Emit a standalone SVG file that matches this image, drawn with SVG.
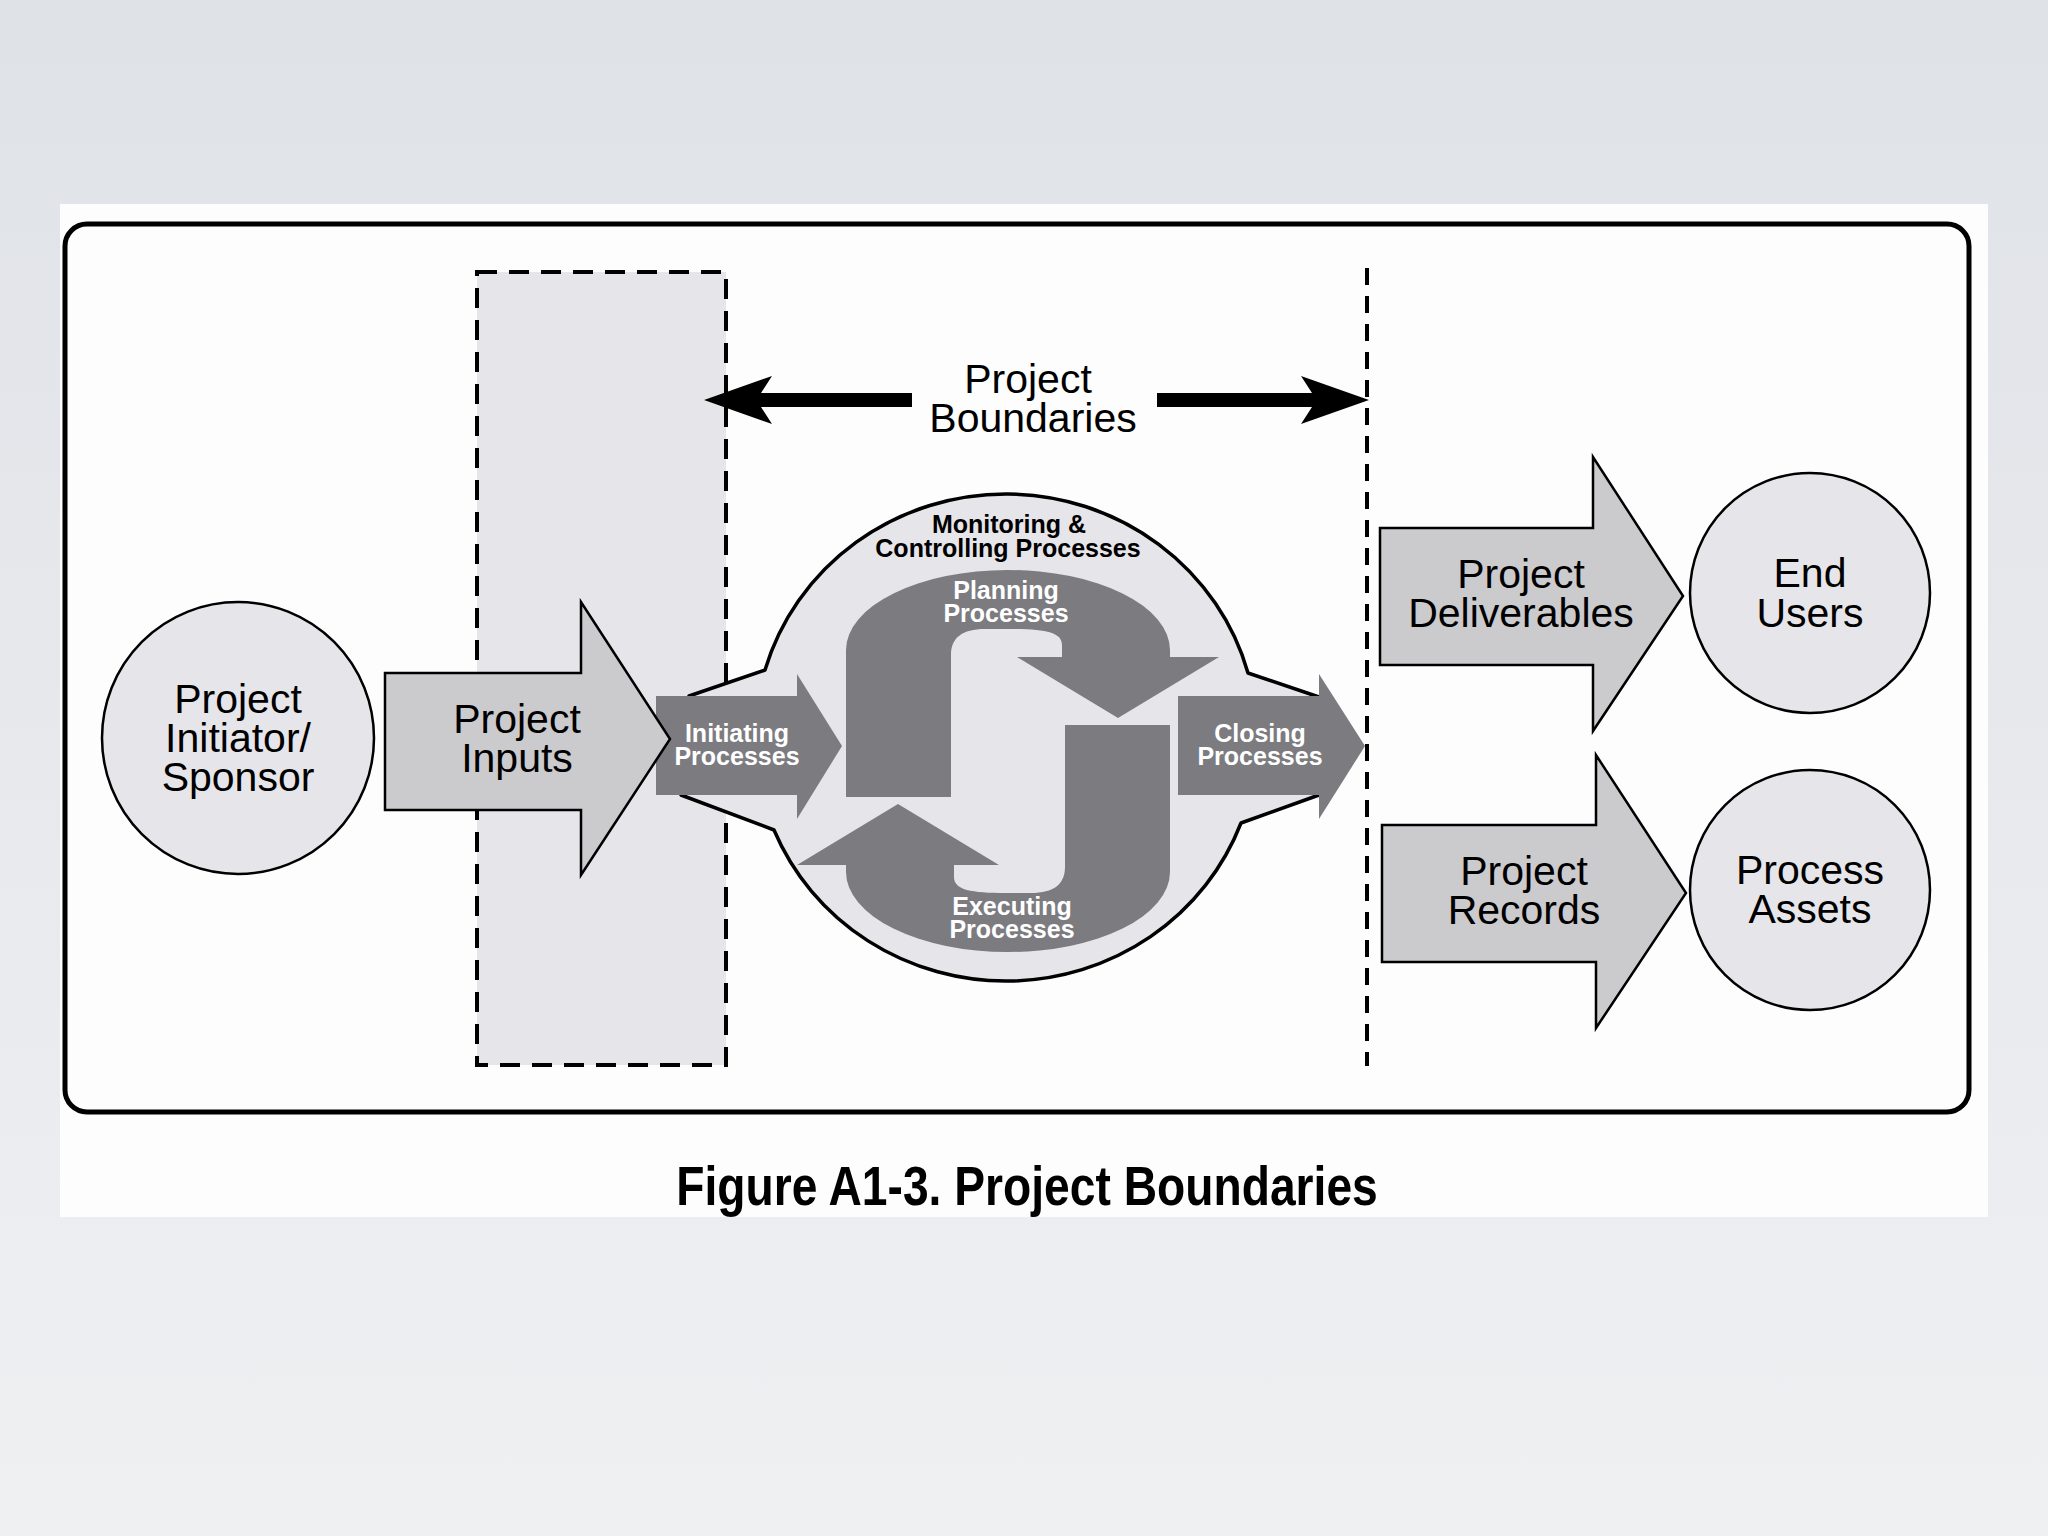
<svg xmlns="http://www.w3.org/2000/svg" width="2048" height="1536" viewBox="0 0 2048 1536">
<defs>
<linearGradient id="bg" x1="0" y1="0" x2="0" y2="1">
<stop offset="0" stop-color="#dfe2e7"/>
<stop offset="1" stop-color="#eff0f2"/>
</linearGradient>
<style>
.lbl{font-family:"Liberation Sans",Arial,sans-serif;font-size:41px;fill:#000;text-anchor:middle}
.wb{font-family:"Liberation Sans",Arial,sans-serif;font-size:25px;font-weight:bold;fill:#fff;text-anchor:middle}
.bb{font-family:"Liberation Sans",Arial,sans-serif;font-size:25px;font-weight:bold;fill:#000;text-anchor:middle}
.circ{fill:#e6e5e9;stroke:#000;stroke-width:2.5}
.big{fill:#cbcacd;stroke:#000;stroke-width:2.5;stroke-linejoin:miter}
.dark{fill:#7c7b7f}
.bnd{fill:#000}
</style>
</defs>
<rect x="0" y="0" width="2048" height="1536" fill="url(#bg)"/>
<rect x="60" y="204" width="1928" height="1013" fill="#fdfdfd"/>
<rect id="frame" x="65" y="224" width="1904" height="888" rx="22" fill="none" stroke="#000" stroke-width="5"/>

<g id="inputs-zone">
<rect x="477" y="272" width="249" height="793" fill="#e6e5e9" stroke="#000" stroke-width="4" stroke-dasharray="20 12"/>
</g>
<g id="boundary-line">
<line x1="1367" y1="268" x2="1367" y2="1066" stroke="#000" stroke-width="4" stroke-dasharray="17 11"/>
</g>

<g id="project-boundaries">
<path class="bnd" d="M 704 400 L 772 376 L 761 393 L 912 393 L 912 407 L 761 407 L 772 424 Z"/>
<path class="bnd" d="M 1369 400 L 1301 376 L 1312 393 L 1157 393 L 1157 407 L 1312 407 L 1301 424 Z"/>
<text class="lbl" x="1028" y="393">Project</text>
<text class="lbl" x="1033" y="432">Boundaries</text>
</g>

<g id="monitoring">
<path d="M 689 696 L 765 670 A 251 244 0 0 1 1248 673 L 1319 697 L 1319 795 L 1241 823 A 251 244 0 0 1 774 830 L 681 795 Z" fill="#e6e5e9" stroke="#000" stroke-width="3.5" stroke-linejoin="round"/>
<text class="bb" x="1009" y="533">Monitoring &amp;</text>
<text class="bb" x="1008" y="557">Controlling Processes</text>
</g>

<g id="initiating">
<path class="dark" d="M 656 696 L 797 696 L 797 674 L 842 746 L 797 819 L 797 795 L 656 795 Z"/>
<text class="wb" x="737" y="742">Initiating</text>
<text class="wb" x="737" y="765">Processes</text>
</g>

<g id="closing">
<path class="dark" d="M 1178 696 L 1319 696 L 1319 674 L 1365 746 L 1319 819 L 1319 795 L 1178 795 Z"/>
<text class="wb" x="1260" y="742">Closing</text>
<text class="wb" x="1260" y="765">Processes</text>
</g>

<g id="planning">
<path class="dark" d="M 846 797 L 846 650 A 162 80 0 0 1 1170 650 L 1170 657 L 1219 657 L 1118 718 L 1017 657 L 1062 657 L 1062 645 C 1062 632 1045 629 1010 629 L 985 629 C 962 629 951 638 951 655 L 951 797 Z"/>
<text class="wb" x="1006" y="599">Planning</text>
<text class="wb" x="1006" y="622">Processes</text>
</g>

<g id="executing">
<path class="dark" transform="rotate(180 1008 761)" d="M 846 797 L 846 650 A 162 80 0 0 1 1170 650 L 1170 657 L 1219 657 L 1118 718 L 1017 657 L 1062 657 L 1062 645 C 1062 632 1045 629 1010 629 L 985 629 C 962 629 951 638 951 655 L 951 797 Z"/>
<text class="wb" x="1012" y="915">Executing</text>
<text class="wb" x="1012" y="938">Processes</text>
</g>

<g id="sponsor">
<circle class="circ" cx="238" cy="738" r="136"/>
<text class="lbl" x="238" y="713">Project</text>
<text class="lbl" x="238" y="752">Initiator/</text>
<text class="lbl" x="238" y="791">Sponsor</text>
</g>

<g id="project-inputs">
<path class="big" d="M 385 673 L 581 673 L 581 602 L 670 739 L 581 875 L 581 810 L 385 810 Z"/>
<text class="lbl" x="517" y="733">Project</text>
<text class="lbl" x="517" y="772">Inputs</text>
</g>

<g id="deliverables">
<path class="big" d="M 1380 528 L 1593 528 L 1593 457 L 1683 596 L 1593 731 L 1593 665 L 1380 665 Z"/>
<text class="lbl" x="1521" y="588">Project</text>
<text class="lbl" x="1521" y="627">Deliverables</text>
</g>

<g id="records">
<path class="big" d="M 1382 825 L 1596 825 L 1596 755 L 1686 893 L 1596 1028 L 1596 962 L 1382 962 Z"/>
<text class="lbl" x="1524" y="885">Project</text>
<text class="lbl" x="1524" y="924">Records</text>
</g>

<g id="end-users">
<circle class="circ" cx="1810" cy="593" r="120"/>
<text class="lbl" x="1810" y="587">End</text>
<text class="lbl" x="1810" y="627">Users</text>
</g>

<g id="process-assets">
<circle class="circ" cx="1810" cy="890" r="120"/>
<text class="lbl" x="1810" y="884">Process</text>
<text class="lbl" x="1810" y="923">Assets</text>
</g>

<g id="caption">
<text transform="translate(1027 1205) scale(0.84 1)" x="0" y="0" font-family="'Liberation Sans',Arial,sans-serif" font-size="55" font-weight="bold" text-anchor="middle" fill="#000">Figure A1-3. Project Boundaries</text>
</g>
</svg>
